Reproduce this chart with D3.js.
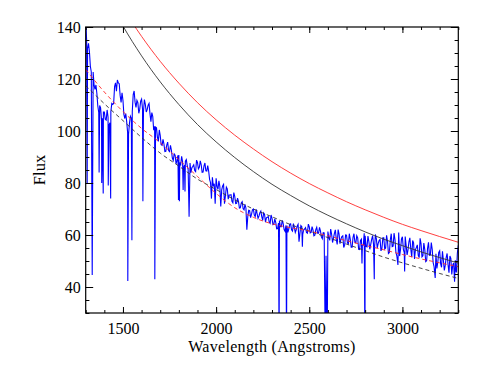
<!DOCTYPE html>
<html>
<head>
<meta charset="utf-8">
<script src="https://cdn.jsdelivr.net/npm/d3@7"></script>
<style>
  body { margin: 0; background: #fff; }
  svg { display: block; }
  text { font-family: "Liberation Serif", "Times New Roman", serif; fill: #000; }
</style>
</head>
<body>
<svg id="chart" width="485" height="368"></svg>
<script>
// tick labels
const xTicks = [1500, 2000, 2500, 3000];
const yTicks = [40, 60, 80, 100, 120, 140];

const spectrum = [
  [1300,143],[1305,134.9],[1308,80],[1310,131.8],[1315,133.7],[1320,130.6],[1325,124.9],[1330,122.7],
  [1335,44.6],[1340,122.7],[1345,117.6],[1350,116],[1355,117.7],[1360,114.4],[1365,109.6],[1370,107.1],
  [1372,84],[1375,109.8],[1380,108.9],[1385,104.1],[1386,80],[1390,104.9],[1394,76],[1395,107.3],
  [1400,107.3],[1405,104.5],[1410,104.2],[1415,108.1],[1420,105.3],[1421,79],[1425,102.3],[1430,103.2],
  [1434,74],[1435,107.4],[1440,110.6],[1445,110.2],[1450,110.6],[1455,117.1],[1460,118.5],[1465,115.3],
  [1470,119.6],[1475,118.5],[1480,118.2],[1485,113.6],[1490,111],[1495,114.7],[1500,111.8],[1505,106.4],
  [1510,104.8],[1515,106.7],[1520,103.6],[1525,99.4],[1526,42.3],[1530,98.7],[1535,103.1],[1540,105.7],
  [1545,104.9],[1548,58],[1550,107.5],[1555,114],[1560,115.4],[1565,111.1],[1570,109.1],[1575,111.8],
  [1580,110.9],[1585,106.8],[1590,108.4],[1595,111.5],[1600,112.3],[1605,108.5],[1607,73],[1610,107.2],
  [1615,112.1],[1620,110.3],[1625,107.3],[1630,108.2],[1635,109.9],[1640,110.6],[1645,106.7],[1650,103.6],
  [1655,107.1],[1660,105.5],[1665,100.3],[1670,101.8],[1671,43],[1675,101.5],[1680,101.2],[1685,97.6],
  [1690,96],[1695,100.4],[1700,98.3],[1705,94.7],[1710,94.5],[1715,96.8],[1720,95],[1725,92.1],
  [1730,92.2],[1735,94.6],[1740,95.7],[1745,92.5],[1750,92.1],[1755,94.5],[1760,92.6],[1765,89.6],
  [1770,88.7],[1775,91.2],[1780,90.7],[1785,87.4],[1790,88.7],[1795,90.6],[1798,73.5],[1800,90.8],
  [1803,73],[1805,87.9],[1810,87.1],[1815,90.3],[1820,88.2],[1823,77.3],[1825,85.9],[1830,86.9],
  [1833,76.7],[1835,88.4],[1840,89],[1845,86.7],[1850,85.1],[1855,67],[1860,87.7],[1865,84],
  [1870,85.9],[1875,86.4],[1880,87],[1885,84.8],[1890,84.4],[1895,88.8],[1900,87.9],[1905,85.4],
  [1910,86],[1915,88.5],[1920,87],[1925,84.1],[1930,84.2],[1935,86.6],[1940,87.7],[1945,84.7],
  [1950,84.6],[1955,86.7],[1960,84.6],[1965,81.4],[1970,80.2],[1975,74],[1980,82.2],[1985,78.7],
  [1990,79.7],[1995,72],[2000,81.8],[2005,78.7],[2010,77.6],[2015,80.8],[2020,78.7],[2025,71],
  [2030,77.4],[2035,78.9],[2040,79.5],[2045,72],[2050,75.1],[2055,78.4],[2060,77.7],[2065,73.8],
  [2070,75.4],[2075,75.4],[2080,75.5],[2085,73],[2090,72.4],[2095,76.3],[2100,74.9],[2105,72.1],
  [2110,72.2],[2115,74.2],[2120,72.9],[2125,70.4],[2130,70.5],[2135,72.3],[2140,72.8],[2145,70.1],
  [2150,69.7],[2155,71.8],[2160,70.4],[2165,62],[2170,67.1],[2175,69.5],[2180,69.4],[2185,66.7],
  [2190,67.9],[2195,69.7],[2200,70],[2205,67.7],[2210,67.1],[2215,69.9],[2220,68.2],[2225,66.4],
  [2230,67.3],[2235,68.6],[2240,69.2],[2245,67.1],[2250,65.6],[2255,68.5],[2260,68],[2265,64.9],
  [2270,66.6],[2275,66.8],[2280,67.1],[2285,65],[2290,64.5],[2295,67.7],[2300,66.5],[2305,64],
  [2310,64.2],[2315,66.2],[2320,64.9],[2325,62.4],[2330,62.5],[2335,64.6],[2338,15],[2340,65.5],
  [2345,63.2],[2350,63.2],[2355,65.6],[2360,64.4],[2365,62.1],[2370,61.4],[2375,63.7],[2378,15],
  [2380,63.6],[2385,61],[2390,62.3],[2395,64.1],[2400,64.3],[2405,62],[2410,61.5],[2415,64.4],
  [2420,62.8],[2425,61],[2430,62],[2435,63.4],[2440,64.1],[2445,57.4],[2450,60.7],[2455,63.6],
  [2460,63.2],[2463,55.5],[2465,60.2],[2470,62],[2475,62.3],[2480,62.8],[2485,61],[2490,60.7],
  [2495,64.2],[2500,63.2],[2505,60.8],[2510,61],[2515,63.2],[2520,62],[2525,59.7],[2530,59.9],
  [2535,62.1],[2540,63],[2545,60.7],[2550,60.7],[2555,62.9],[2560,61.6],[2565,59.3],[2570,58.6],
  [2575,60.9],[2580,60.8],[2586,15],[2590,52],[2596,15],[2600,61.3],[2605,59.1],[2610,57.9],
  [2615,62.3],[2620,60.3],[2625,57.1],[2630,58.8],[2635,60.6],[2640,62],[2645,58.4],[2650,56.4],
  [2655,62.1],[2660,60.4],[2665,56.7],[2670,58.4],[2675,59.4],[2680,59.7],[2685,55.2],[2690,56.1],
  [2695,60],[2700,59.9],[2705,56.9],[2710,56.6],[2715,60.5],[2720,58.4],[2725,55.3],[2730,55.3],
  [2735,59.1],[2740,60.5],[2745,57.2],[2750,57],[2755,59.7],[2760,58.9],[2765,54.5],[2770,54.4],
  [2775,57.9],[2780,58.4],[2783,49],[2785,55.8],[2790,56.2],[2795,60.7],[2799,15],[2800,59.7],
  [2805,55.6],[2810,55.4],[2815,59.6],[2820,57.5],[2825,54.5],[2830,56.4],[2835,58.3],[2840,59.8],
  [2845,56.4],[2849,43],[2850,54.5],[2855,60.2],[2860,58.6],[2865,55],[2870,56.8],[2875,57.9],
  [2880,58.3],[2885,53.9],[2890,54.9],[2895,58.9],[2900,58.9],[2905,54.6],[2910,55],[2915,59.9],
  [2920,57.6],[2925,52.9],[2930,53.3],[2935,58.1],[2940,60.5],[2945,55.5],[2950,55.7],[2955,60.7],
  [2960,58.3],[2965,53.4],[2970,52],[2976,48.5],[2980,61],[2985,51.9],[2990,54.5],[2995,58.5],
  [3000,59.3],[3005,54.5],[3010,53.2],[3012,46],[3015,59.4],[3020,56],[3025,52.3],[3030,54.3],
  [3035,57.4],[3040,58.9],[3045,54.6],[3050,51.5],[3055,57.9],[3060,57],[3065,50.8],[3070,54.4],
  [3075,55.2],[3080,56.2],[3085,52.2],[3090,51.3],[3095,58.7],[3100,56.6],[3105,51.6],[3110,52],
  [3115,56.9],[3120,54.5],[3125,49.8],[3130,50.1],[3135,54.9],[3140,57.2],[3145,52.2],[3150,52.3],
  [3155,57.1],[3160,54.5],[3165,49.4],[3170,47.8],[3176,43.5],[3180,52.8],[3185,47.1],[3190,49.5],
  [3195,53.3],[3200,53.9],[3205,49],[3210,47.6],[3215,53.7],[3220,50.2],[3225,46.4],[3230,48.4],
  [3235,51.4],[3240,52.9],[3245,48.6],[3250,45.5],[3255,51.9],[3260,51],[3265,44.8],[3270,48.4],
  [3275,49.2],[3280,42],[3284,50.3],[3287,46.4],[3290,45.6],[3295,53.1],[3300,56]
];

// model curves sampled every 100 A
const modelWave = [1300,1400,1500,1600,1700,1800,1900,2000,2100,2200,2300,2400,2500,2600,2700,2800,2900,3000,3100,3200,3300];
const blackSolid = [170,153.9,140.4,128.9,118.9,110.2,102.5,95.8,89.8,84.4,79.5,75.2,71.2,67.6,64.3,61.2,58.4,55.9,53.5,51.3,49.2];
const redSolid   = [190,160,147.3,136.4,126.8,118.4,110.9,104.3,98.4,93.1,88.2,83.8,79.8,76.2,72.8,69.7,66.8,64.1,61.7,59.4,57.2];
const blackDash  = [117.5,110.5,104,97.5,91.5,86.5,81.5,77.5,73.5,70,67,64,61.5,59,56.5,54,51.5,49.3,47.2,45.2,43.3];
const redDash    = [123.7,115,107.5,101,95.5,89,82.5,76,70.5,66.8,64.3,62.8,61.5,59.7,57.8,56,54.3,52.5,50.8,49.3,47.8];

const svg = d3.select('#chart');
const mLeft = 85.7, mRight = 458.3, mTop = 27, mBottom = 313;

const x = d3.scaleLinear().domain([1300, 3300]).range([mLeft, mRight]);
const y = d3.scaleLinear().domain([30, 140]).range([mBottom, mTop]);

svg.append('clipPath').attr('id', 'clip')
  .append('rect')
    .attr('x', mLeft).attr('y', mTop)
    .attr('width', mRight - mLeft).attr('height', mBottom - mTop);

const plot = svg.append('g').attr('clip-path', 'url(#clip)');

const line = d3.line()
  .x(d => x(d[0]))
  .y(d => y(d[1]));

plot.append('path')
  .datum(spectrum)
  .attr('fill', 'none')
  .attr('stroke', '#0000ff')
  .attr('stroke-width', 1.1)
  .attr('d', line);

const smooth = d3.line()
  .x(d => x(d[0]))
  .y(d => y(d[1]))
  .curve(d3.curveMonotoneX);

function model(vals, color, dash) {
  plot.append('path')
    .datum(modelWave.map((w, i) => [w, vals[i]]))
    .attr('fill', 'none')
    .attr('stroke', color)
    .attr('stroke-width', 0.9)
    .attr('stroke-dasharray', dash)
    .attr('d', smooth);
}
model(blackSolid, '#333', null);
model(redSolid, '#ff2a2a', null);
model(blackDash, '#333', '4,3');
model(redDash, '#ff2a2a', '4,3');

// axes, ticks pointing inward
const minorX = d3.range(1300, 3301, 100);
const minorY = d3.range(30, 141, 5);

function strip(g) { g.select('.domain').remove(); g.selectAll('line').attr('stroke', '#000'); }
function labels(g) { g.selectAll('text').attr('font-size', 16).style('font-family', '"Liberation Serif", serif'); }

svg.append('g').attr('transform', `translate(0,${mBottom})`)
  .call(d3.axisBottom(x).tickValues(minorX).tickSize(-3).tickFormat(''))
  .call(strip);
svg.append('g').attr('transform', `translate(0,${mBottom})`)
  .call(d3.axisBottom(x).tickValues(xTicks).tickSize(-6).tickPadding(9.5).tickFormat(d3.format('d')))
  .call(strip).call(labels);
svg.append('g').attr('transform', `translate(0,${mTop})`)
  .call(d3.axisTop(x).tickValues(minorX).tickSize(-3).tickFormat(''))
  .call(strip);
svg.append('g').attr('transform', `translate(0,${mTop})`)
  .call(d3.axisTop(x).tickValues(xTicks).tickSize(-6).tickFormat(''))
  .call(strip);

svg.append('g').attr('transform', `translate(${mLeft},0)`)
  .call(d3.axisLeft(y).tickValues(minorY).tickSize(-3.7).tickFormat(''))
  .call(strip);
svg.append('g').attr('transform', `translate(${mLeft},0)`)
  .call(d3.axisLeft(y).tickValues(yTicks).tickSize(-7.5).tickPadding(5).tickFormat(d3.format('d')))
  .call(strip).call(labels);
svg.append('g').attr('transform', `translate(${mRight},0)`)
  .call(d3.axisRight(y).tickValues(minorY).tickSize(-3.7).tickFormat(''))
  .call(strip);
svg.append('g').attr('transform', `translate(${mRight},0)`)
  .call(d3.axisRight(y).tickValues(yTicks).tickSize(-7.5).tickFormat(''))
  .call(strip);

svg.append('rect')
  .attr('x', mLeft).attr('y', mTop)
  .attr('width', mRight - mLeft).attr('height', mBottom - mTop)
  .attr('fill', 'none').attr('stroke', '#000').attr('stroke-width', 1.2);

svg.append('text')
  .attr('x', (mLeft + mRight) / 2).attr('y', 352)
  .attr('text-anchor', 'middle').attr('font-size', 16)
  .attr('letter-spacing', 0.3)
  .text('Wavelength (Angstroms)');

svg.append('text')
  .attr('transform', `translate(45,${(mTop + mBottom) / 2}) rotate(-90)`)
  .attr('text-anchor', 'middle').attr('font-size', 16.5)
  .text('Flux');
</script>
</body>
</html>
